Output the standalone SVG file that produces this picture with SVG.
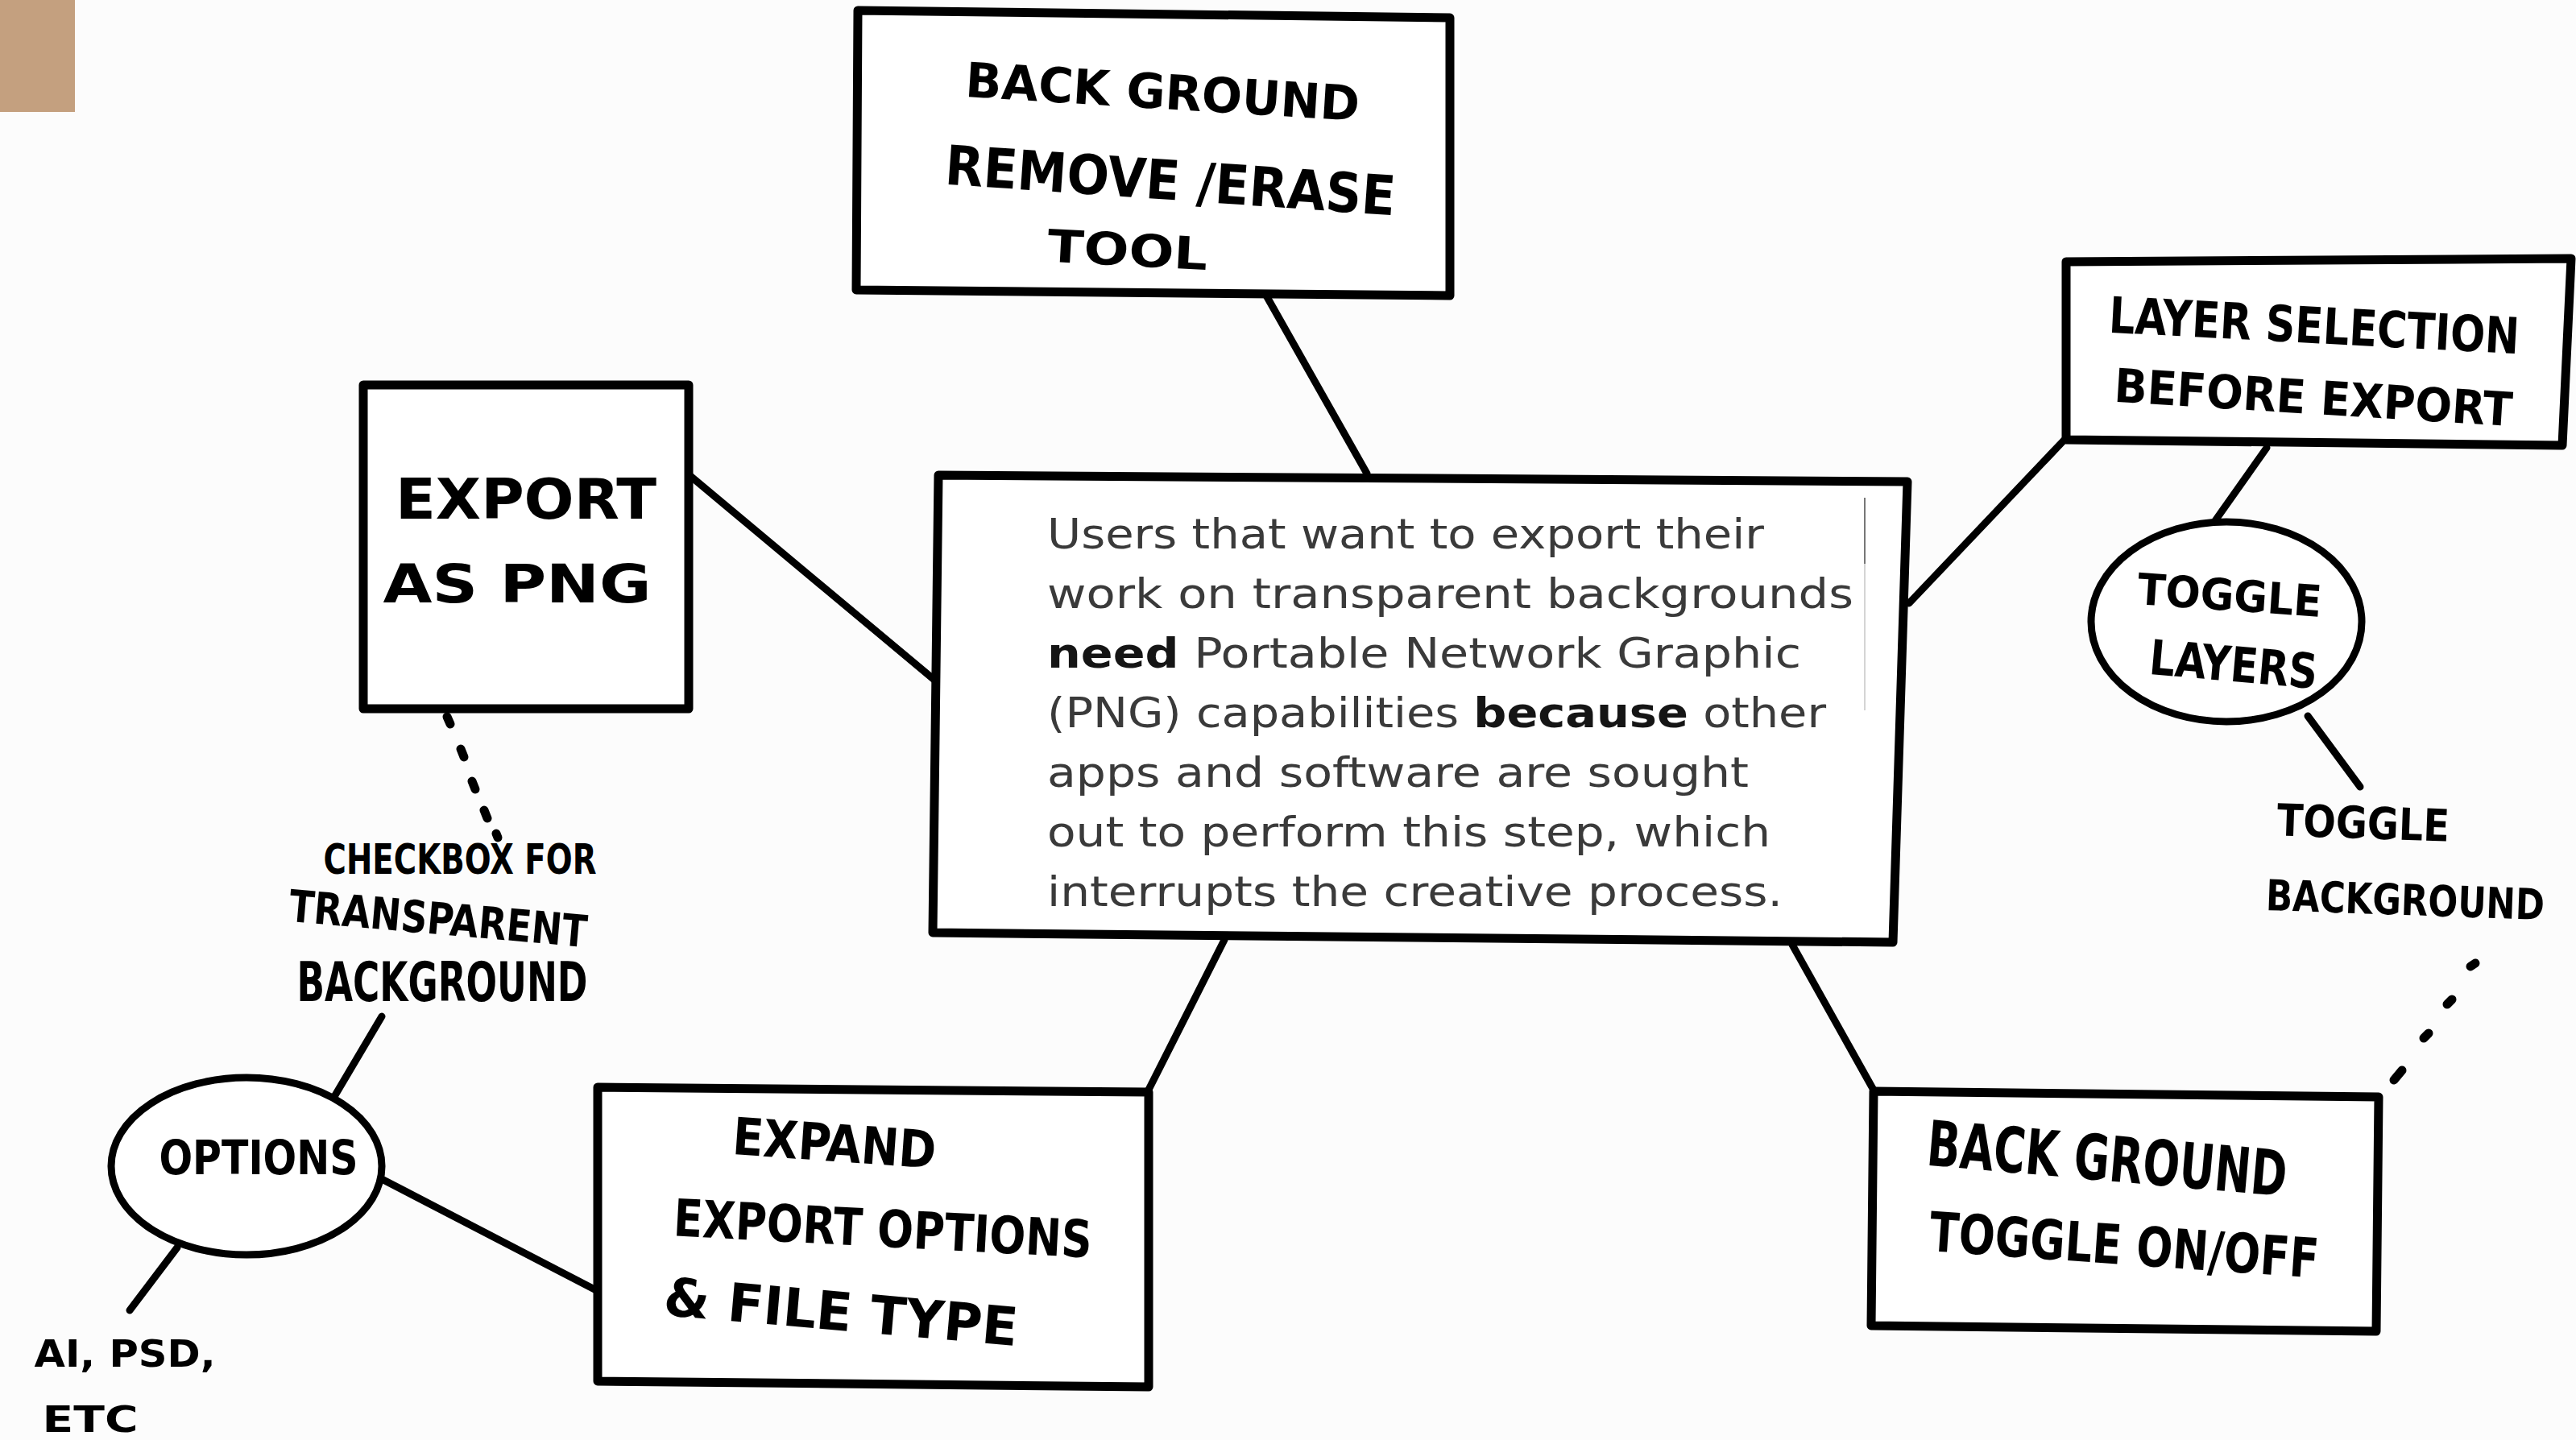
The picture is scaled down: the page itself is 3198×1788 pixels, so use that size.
<svg xmlns="http://www.w3.org/2000/svg" width="3198" height="1788" viewBox="0 0 3198 1788">
<style>
.box{fill:#ffffff;stroke:#000;stroke-width:11;stroke-linejoin:round}
.ell{fill:#ffffff;stroke:#000;stroke-width:9}
.conn{stroke:#000;stroke-width:9;stroke-linecap:round;fill:none}
.dot{stroke:#000;stroke-width:11;stroke-linecap:round;fill:none}
.hand{font-family:"DejaVu Sans Condensed","Liberation Sans Narrow","Liberation Sans",sans-serif;font-weight:bold;fill:#000;text-anchor:middle}
.body{font-family:"DejaVu Sans","Open Sans",sans-serif;font-size:52px;fill:#3a3a3a}
.b{font-weight:bold;fill:#151515}
</style>
<rect x="0" y="0" width="3198" height="1788" fill="#fcfcfc"/>
<rect id="tab" x="0" y="0" width="93" height="139" fill="#c4a07f"/>

<g id="connectors">
  <line class="conn" x1="1572" y1="367" x2="1697" y2="588"/>
  <line class="conn" x1="857" y1="591" x2="1167" y2="850"/>
  <line class="conn" x1="2370" y1="749" x2="2562" y2="547"/>
  <line class="conn" x1="2814" y1="556" x2="2749" y2="648"/>
  <line class="conn" x1="2865" y1="889" x2="2930" y2="977"/>
  <line class="conn" x1="2225" y1="1173" x2="2328" y2="1357"/>
  <line class="conn" x1="1520" y1="1167" x2="1426" y2="1353"/>
  <line class="conn" x1="742" y1="1603" x2="474" y2="1464"/>
  <line class="conn" x1="416" y1="1360" x2="474" y2="1262"/>
  <line class="conn" x1="220" y1="1549" x2="161" y2="1627"/>
  <g id="dots-left">
    <line class="dot" x1="555" y1="890" x2="559" y2="899"/>
    <line class="dot" x1="572" y1="930" x2="576" y2="940"/>
    <line class="dot" x1="586" y1="970" x2="590" y2="980"/>
    <line class="dot" x1="601" y1="1006" x2="605" y2="1016"/>
    <line class="dot" x1="616" y1="1035" x2="618" y2="1040"/>
  </g>
  <g id="dots-right">
    <line class="dot" x1="3073" y1="1196" x2="3067" y2="1200"/>
    <line class="dot" x1="3044" y1="1241" x2="3038" y2="1247"/>
    <line class="dot" x1="3015" y1="1283" x2="3009" y2="1289"/>
    <line class="dot" x1="2982" y1="1329" x2="2972" y2="1341"/>
  </g>
</g>

<g id="node-erase-tool">
  <polygon class="box" points="1065,13 1800,22 1800,367 1063,360"/>
  <text class="hand" x="1443" y="135" font-size="60" textLength="490" lengthAdjust="spacingAndGlyphs" transform="rotate(3.5 1443 120)">BACK GROUND</text>
  <text class="hand" x="1453" y="248" font-size="68" textLength="560" lengthAdjust="spacingAndGlyphs" transform="rotate(4 1453 225)">REMOVE /ERASE</text>
  <text class="hand" x="1400" y="330" font-size="56" textLength="199" lengthAdjust="spacingAndGlyphs" transform="rotate(3 1400 310)">TOOL</text>
</g>

<g id="node-export-png">
  <polygon class="box" points="451,478 855,478 855,880 451,880"/>
  <text class="hand" x="653" y="644" font-size="70" textLength="324" lengthAdjust="spacingAndGlyphs">EXPORT</text>
  <text class="hand" x="642" y="748" font-size="66" textLength="333" lengthAdjust="spacingAndGlyphs">AS PNG</text>
</g>

<g id="node-checkbox">
  <text class="hand" x="571" y="1085" font-size="52" textLength="339" lengthAdjust="spacingAndGlyphs">CHECKBOX FOR</text>
  <text class="hand" x="544" y="1160" font-size="55" textLength="371" lengthAdjust="spacingAndGlyphs" transform="rotate(5 544 1140)">TRANSPARENT</text>
  <text class="hand" x="549" y="1243" font-size="68" textLength="361" lengthAdjust="spacingAndGlyphs">BACKGROUND</text>
</g>

<g id="node-options">
  <ellipse class="ell" cx="306" cy="1448" rx="168" ry="110"/>
  <text class="hand" x="321" y="1458" font-size="58" textLength="247" lengthAdjust="spacingAndGlyphs">OPTIONS</text>
</g>

<g id="node-filetypes">
  <text class="hand" x="155" y="1697" font-size="46" textLength="225" lengthAdjust="spacingAndGlyphs">AI, PSD,</text>
  <text class="hand" x="112" y="1778" font-size="44" textLength="119" lengthAdjust="spacingAndGlyphs">ETC</text>
</g>

<g id="node-expand">
  <polygon class="box" points="742,1350 1426,1356 1426,1722 742,1715"/>
  <text class="hand" x="1036" y="1442" font-size="64" textLength="253" lengthAdjust="spacingAndGlyphs" transform="rotate(4 1036 1420)">EXPAND</text>
  <text class="hand" x="1096" y="1548" font-size="64" textLength="520" lengthAdjust="spacingAndGlyphs" transform="rotate(3 1096 1525)">EXPORT OPTIONS</text>
  <text class="hand" x="1044" y="1652" font-size="66" textLength="441" lengthAdjust="spacingAndGlyphs" transform="rotate(5 1044 1630)">&amp; FILE TYPE</text>
</g>

<g id="node-center">
  <polygon class="box" points="1165,590 2368,598 2350,1170 1158,1158" stroke-width="12"/>
  <line x1="2315" y1="618" x2="2315" y2="700" stroke="#777" stroke-width="2"/>
  <line x1="2315" y1="700" x2="2315" y2="882" stroke="#d4d4d4" stroke-width="2"/>
  <text class="body" x="1300" y="681" textLength="890" lengthAdjust="spacingAndGlyphs">Users that want to export their</text>
  <text class="body" x="1300" y="755" textLength="1001" lengthAdjust="spacingAndGlyphs">work on transparent backgrounds</text>
  <text class="body" x="1300" y="829" textLength="936" lengthAdjust="spacingAndGlyphs"><tspan class="b">need</tspan> Portable Network Graphic</text>
  <text class="body" x="1300" y="903" textLength="967" lengthAdjust="spacingAndGlyphs">(PNG) capabilities <tspan class="b">because</tspan> other</text>
  <text class="body" x="1300" y="977" textLength="871" lengthAdjust="spacingAndGlyphs">apps and software are sought</text>
  <text class="body" x="1300" y="1051" textLength="898" lengthAdjust="spacingAndGlyphs">out to perform this step, which</text>
  <text class="body" x="1300" y="1125" textLength="913" lengthAdjust="spacingAndGlyphs">interrupts the creative process.</text>
</g>

<g id="node-layer-selection">
  <polygon class="box" points="2565,325 3192,321 3181,553 2565,546"/>
  <text class="hand" x="2873" y="426" font-size="62" textLength="510" lengthAdjust="spacingAndGlyphs" transform="rotate(3 2873 405)">LAYER SELECTION</text>
  <text class="hand" x="2872" y="514" font-size="58" textLength="495" lengthAdjust="spacingAndGlyphs" transform="rotate(3.5 2872 495)">BEFORE EXPORT</text>
</g>

<g id="node-toggle-layers">
  <ellipse class="ell" cx="2764" cy="772" rx="168" ry="124"/>
  <text class="hand" x="2768" y="758" font-size="54" textLength="229" lengthAdjust="spacingAndGlyphs" transform="rotate(4 2768 740)">TOGGLE</text>
  <text class="hand" x="2773" y="846" font-size="60" textLength="209" lengthAdjust="spacingAndGlyphs" transform="rotate(5 2773 825)">LAYERS</text>
</g>

<g id="node-toggle-background">
  <text class="hand" x="2934" y="1041" font-size="55" textLength="214" lengthAdjust="spacingAndGlyphs" transform="rotate(2 2934 1020)">TOGGLE</text>
  <text class="hand" x="2986" y="1136" font-size="53" textLength="346" lengthAdjust="spacingAndGlyphs" transform="rotate(2 2986 1118)">BACKGROUND</text>
</g>

<g id="node-bg-toggle">
  <polygon class="box" points="2326,1355 2953,1362 2950,1653 2323,1646"/>
  <text class="hand" x="2616" y="1466" font-size="78" textLength="448" lengthAdjust="spacingAndGlyphs" transform="rotate(5 2616 1440)">BACK GROUND</text>
  <text class="hand" x="2637" y="1570" font-size="68" textLength="484" lengthAdjust="spacingAndGlyphs" transform="rotate(4 2637 1548)">TOGGLE ON/OFF</text>
</g>
</svg>
